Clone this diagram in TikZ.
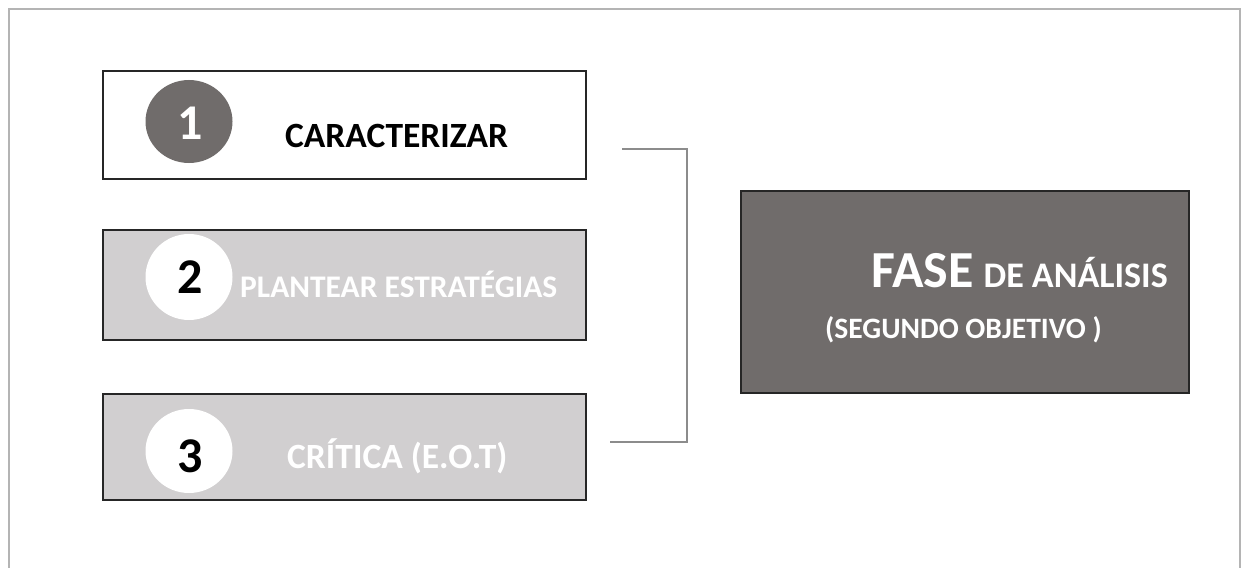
\documentclass[tikz,border=0pt]{standalone}
\usepackage{fontspec}
\setmainfont{Carlito}
\definecolor{darkbox}{HTML}{706C6B}
\definecolor{lightbox}{HTML}{D1CFD0}
\definecolor{edge}{HTML}{262626}
\definecolor{frame}{HTML}{B4B4B4}
\definecolor{bracket}{HTML}{8C8C8C}
\begin{document}
\begin{tikzpicture}[x=1pt,y=-1pt,
  stepbox/.style={draw=edge,line width=1.6pt,minimum width=483pt,inner sep=0pt},
  lbl/.style={anchor=base west,inner sep=0pt,font=\bfseries},
  digit/.style={anchor=base,inner sep=0pt,font=\bfseries\fontsize{50}{50}\selectfont}]
\useasboundingbox (0,0) rectangle (1246,567);
\fill[white] (0,0) rectangle (1246,567);
% outer frame
\draw[frame,line width=2.5pt] (9,580) -- (9,9) -- (1240,9) -- (1240,580);
% boxes
\node[stepbox,fill=white,minimum height=108pt,anchor=north west] (box1) at (102,70) {};
\node[stepbox,fill=lightbox,minimum height=110pt,anchor=north west] (box2) at (102,229) {};
\node[stepbox,fill=lightbox,minimum height=106pt,anchor=north west] (box3) at (102,393) {};
\node[draw=edge,line width=1.6pt,fill=darkbox,minimum width=448pt,minimum height=202pt,inner sep=0pt,anchor=north west] (fase) at (740,190) {};
% circles
\fill[darkbox] (189,121.5) ellipse [x radius=43.5pt,y radius=41.5pt];
\fill[white] (189,277) ellipse [x radius=43.5pt,y radius=43pt];
\fill[white] (189,451) ellipse [x radius=43.5pt,y radius=42pt];
\coordinate (c1) at (190,139.5);
\coordinate (c2) at (190,293);
\coordinate (c3) at (190,472);
\node[digit,text=white] (n1) at (c1) {1};
\node[digit,text=black] (n2) at (c2) {2};
\node[digit,text=black] (n3) at (c3) {3};
% labels
\node[lbl,font=\bfseries\fontsize{35.5}{35.5}\selectfont,text=black] (t1) at (285,147) {CARACTERIZAR};
\node[lbl,font=\bfseries\fontsize{31.5}{31.5}\selectfont,text=white] (t2) at (240,297) {PLANTEAR ESTRATÉGIAS};
\node[lbl,font=\bfseries\fontsize{35.5}{35.5}\selectfont,text=white] (t3) at (287,468) {CRÍTICA (E.O.T)};
\node[lbl,text=white] (f1) at (871,287) {{\fontsize{52}{52}\selectfont FASE}\hspace{10pt}{\fontsize{36}{36}\selectfont DE ANÁLISIS}};
\node[lbl,font=\bfseries\fontsize{29.6}{29.6}\selectfont,text=white] (f2) at (825,338) {(SEGUNDO OBJETIVO )};
% bracket
\coordinate (b1) at (622,149);
\coordinate (b3) at (610,442);
\coordinate (bv) at (687,300);
\draw[bracket,line width=1.5pt] (b1) -| (bv) |- (b3);
\end{tikzpicture}
\end{document}
